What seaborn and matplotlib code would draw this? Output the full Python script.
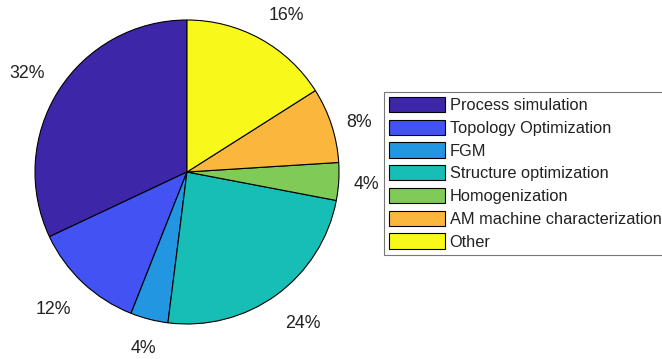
import matplotlib
matplotlib.use("Agg")
import matplotlib.pyplot as plt
from matplotlib.transforms import offset_copy
import seaborn as sns

categories = [
    "Process simulation",
    "Topology Optimization",
    "FGM",
    "Structure optimization",
    "Homogenization",
    "AM machine characterization",
    "Other",
]
shares = [32, 12, 4, 24, 4, 8, 16]
colors = ["#3E26A8", "#4352F2", "#2396E2", "#16BEB6", "#80CB58", "#FBB63E", "#F8F91A"]

sns.set_theme(style="white")
plt.rcParams["font.family"] = ["Liberation Sans", "DejaVu Sans"]
palette = sns.color_palette(colors)

W, H = 662, 359
fig = plt.figure(figsize=(W / 100, H / 100), dpi=100)
fig.patch.set_facecolor("white")

cx, cy, r = 187, 172, 152
ax = fig.add_axes([(cx - r) / W, (H - cy - r) / H, 2 * r / W, 2 * r / H])

wedges, texts = ax.pie(
    shares,
    colors=palette,
    startangle=90,
    counterclock=True,
    labels=[f"{v}%" for v in shares],
    labeldistance=1.2,
    wedgeprops=dict(edgecolor="black", linewidth=0.8),
    textprops=dict(fontsize=12.8, color="#222222"),
)

# small nudges (in points) so the percentage labels sit clear of the rim
nudges = [(-4.5, 0.5), (-6, -3), (1, 0), (6.5, -2.5), (-2, -1), (-1, -5), (8, -2.5)]
for t, (dx, dy) in zip(texts, nudges):
    t.set_horizontalalignment("center")
    t.set_verticalalignment("center")
    t.set_transform(offset_copy(t.get_transform(), fig=fig, x=dx, y=dy, units="points"))

ax.set_xlim(-1, 1)
ax.set_ylim(-1, 1)
ax.set_aspect("equal")
ax.axis("off")

leg = fig.legend(
    wedges,
    categories,
    loc="upper left",
    bbox_to_anchor=(384 / W, 1 - 92 / H),
    frameon=True,
    fancybox=False,
    fontsize=11.8,
    handlelength=3.4,
    handleheight=1.05,
    handletextpad=0.3,
    labelspacing=0.4,
    borderpad=0.3,
    borderaxespad=0,
)
frame = leg.get_frame()
frame.set_edgecolor("#555555")
frame.set_linewidth(0.8)
for txt in leg.get_texts():
    txt.set_color("#222222")

fig.savefig("out.png", dpi=100, facecolor="white")
